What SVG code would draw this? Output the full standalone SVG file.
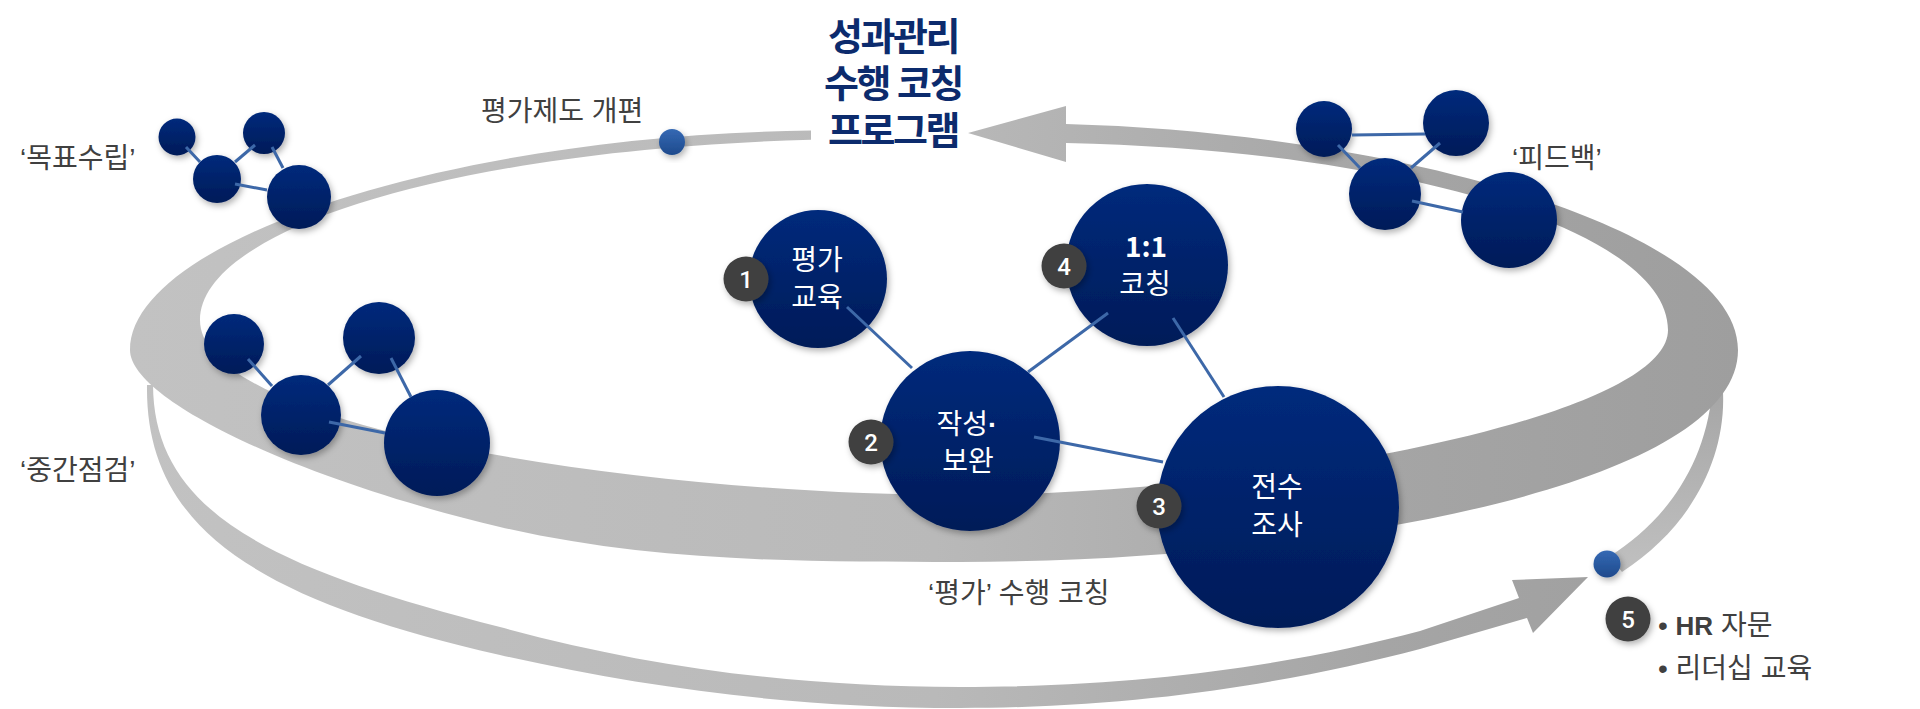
<svg xmlns="http://www.w3.org/2000/svg" width="1920" height="709" viewBox="0 0 1920 709">
  <style>
    .lbl { font-family: "Liberation Sans", "Noto Sans CJK KR", sans-serif; font-size: 28px; fill: #404040; }
    .ntx { font-family: "Noto Sans CJK KR", sans-serif; font-size: 28px; fill: #ffffff; text-anchor: middle; }
    .num { font-family: Roboto, "Liberation Sans", sans-serif; font-size: 24px; font-weight: 500; fill: #ffffff; text-anchor: middle; }
    .ttl { font-family: "Liberation Sans", "Noto Sans CJK KR", sans-serif; font-size: 38px; font-weight: 700; fill: #0c2b6d; text-anchor: middle; letter-spacing: -2.5px; }
    .navy { fill: url(#navyGrad); filter: url(#shadow); }
    .badge { fill: #404040; filter: url(#shadow); }
    .dot { fill: url(#dotGrad); filter: url(#shadow); }
    .conn line { stroke: #3d68a8; stroke-width: 3; }
  </style>
  <defs>
    <linearGradient id="ringGrad" gradientUnits="userSpaceOnUse" x1="130" y1="0" x2="1740" y2="0">
      <stop offset="0" stop-color="#c2c2c2"/>
      <stop offset="0.5" stop-color="#b9b9b9"/>
      <stop offset="0.78" stop-color="#a5a5a5"/>
      <stop offset="1" stop-color="#9e9e9e"/>
    </linearGradient>
    <linearGradient id="thinGrad" x1="0" y1="1" x2="0" y2="0">
      <stop offset="0" stop-color="#c0c0c0"/>
      <stop offset="1" stop-color="#a6a6a6"/>
    </linearGradient>
    <linearGradient id="navyGrad" x1="0" y1="0" x2="0" y2="1">
      <stop offset="0" stop-color="#032a7c"/>
      <stop offset="1" stop-color="#031b58"/>
    </linearGradient>
    <linearGradient id="dotGrad" x1="0" y1="0" x2="0" y2="1">
      <stop offset="0" stop-color="#3569b4"/>
      <stop offset="1" stop-color="#1e4a8c"/>
    </linearGradient>
    <filter id="shadow" x="-20%" y="-20%" width="150%" height="150%">
      <feDropShadow dx="2" dy="3" stdDeviation="3" flood-color="#000000" flood-opacity="0.3"/>
    </filter>
  </defs>

  <rect width="1920" height="709" fill="#ffffff"/>

  <g id="ring">
    <path id="lower-band" fill="url(#ringGrad)" d="M 147 385 C 145 530, 260 600, 500 655 C 650 689, 800 708, 960 708 C 1150 708, 1300 680, 1420 649 L 1527 618 L 1533 633 L 1588 577 L 1512 580 L 1519 598 L 1420 631 C 1300 663, 1150 687, 960 687 C 800 687, 650 668, 500 627 C 270 568, 154 512, 153 385 Z"/>
    <path id="thin-band" fill="url(#thinGrad)" d="M 1610 556 C 1660 525, 1705 470, 1712 392 L 1723 392 C 1726 460, 1690 528, 1622 572 Z"/>
    <path id="upper-band" fill="url(#ringGrad)" d="M 811 130.6 C 450 135, 130 240, 130 350 C 130 400, 300 480, 500 527 C 650 562, 800 562, 960 562 C 1300 562, 1738 490, 1738 350 C 1738 230, 1400 133, 1066 124 L 1066 106 L 968 133 L 1066 162 L 1066 143 C 1400 150, 1668 230, 1668 330 C 1668 420, 1250 495, 960 495 C 650 495, 200 430, 200 320 C 200 230, 450 150, 811 139.7 Z"/>
  </g>

  <g id="milestone-top"><circle class="dot" cx="672" cy="142" r="13"/></g>
  <g id="milestone-bottom"><circle class="dot" cx="1607" cy="564" r="13.5"/></g>

  <g id="title">
    <text class="ttl" x="893" y="50">성과관리<tspan x="893" dy="47">수행 코칭</tspan><tspan x="893" dy="47">프로그램</tspan></text>
  </g>

  <g id="cluster-goal">
    <circle class="navy" cx="177" cy="137" r="18.5"/>
    <circle class="navy" cx="264" cy="133" r="21"/>
    <circle class="navy" cx="217" cy="179" r="24"/>
    <circle class="navy" cx="299" cy="197" r="32"/>
  </g>
  <g id="cluster-mid">
    <circle class="navy" cx="234" cy="344" r="30"/>
    <circle class="navy" cx="379" cy="338" r="36"/>
    <circle class="navy" cx="301" cy="415" r="40"/>
    <circle class="navy" cx="437" cy="443" r="53"/>
  </g>
  <g id="cluster-feedback">
    <circle class="navy" cx="1324" cy="129" r="28"/>
    <circle class="navy" cx="1456" cy="123" r="33"/>
    <circle class="navy" cx="1385" cy="194" r="36"/>
    <circle class="navy" cx="1509" cy="220" r="48"/>
  </g>

  <g id="node-1">
    <circle class="navy" cx="818" cy="279" r="69"/>
    <text class="ntx" x="817" y="270">평가</text>
    <text class="ntx" x="817" y="307">교육</text>
  </g>
  <g id="node-2">
    <circle class="navy" cx="970" cy="441" r="90"/>
    <text class="ntx" x="967" y="434">작성<tspan font-family="Liberation Sans, sans-serif" font-weight="700">·</tspan></text>
    <text class="ntx" x="968" y="471">보완</text>
  </g>
  <g id="node-3">
    <circle class="navy" cx="1278" cy="507" r="121"/>
    <text class="ntx" x="1277" y="497">전수</text>
    <text class="ntx" x="1277" y="535">조사</text>
  </g>
  <g id="node-4">
    <circle class="navy" cx="1147" cy="265" r="81"/>
    <text class="ntx" x="1146" y="257" font-weight="700">1:1</text>
    <text class="ntx" x="1145" y="294">코칭</text>
  </g>

  <g id="connectors" class="conn">
    <line x1="847" y1="307" x2="912" y2="368"/>
    <line x1="1028" y1="372" x2="1108" y2="313"/>
    <line x1="1034" y1="437" x2="1163" y2="462"/>
    <line x1="1173" y1="318" x2="1224" y2="397"/>
    <line x1="186" y1="147" x2="200" y2="162"/>
    <line x1="255" y1="145" x2="235" y2="162"/>
    <line x1="272" y1="147" x2="283" y2="168"/>
    <line x1="235" y1="184" x2="267" y2="190"/>
    <line x1="248" y1="359" x2="272" y2="386"/>
    <line x1="361" y1="356" x2="328" y2="385"/>
    <line x1="391" y1="358" x2="411" y2="397"/>
    <line x1="329" y1="422" x2="385" y2="433"/>
    <line x1="1352" y1="135" x2="1425" y2="134"/>
    <line x1="1338" y1="145" x2="1360" y2="168"/>
    <line x1="1440" y1="143" x2="1411" y2="168"/>
    <line x1="1412" y1="201" x2="1463" y2="212"/>
  </g>

  <g id="badge-1"><circle class="badge" cx="746" cy="279" r="22.5"/><text class="num" x="746" y="287.5">1</text></g>
  <g id="badge-2"><circle class="badge" cx="871" cy="442" r="22.5"/><text class="num" x="871" y="450.5">2</text></g>
  <g id="badge-3"><circle class="badge" cx="1159" cy="506" r="22.5"/><text class="num" x="1159" y="514.5">3</text></g>
  <g id="badge-4"><circle class="badge" cx="1064" cy="266" r="22.5"/><text class="num" x="1064" y="274.5">4</text></g>
  <g id="badge-5"><circle class="badge" cx="1628" cy="619" r="22.5"/><text class="num" x="1628" y="627.5">5</text></g>

  <g id="labels">
    <text class="lbl" x="481" y="121">평가제도 개편</text>
    <text class="lbl" x="20" y="168">‘목표수립’</text>
    <text class="lbl" x="20" y="480">‘중간점검’</text>
    <text class="lbl" x="1512" y="168">‘피드백’</text>
    <text class="lbl" x="928" y="603">‘평가’ 수행 코칭</text>
    <text class="lbl" x="1658" y="635">• <tspan font-weight="700" font-size="26">HR</tspan> 자문</text>
    <text class="lbl" x="1658" y="678">• 리더십 교육</text>
  </g>
</svg>
